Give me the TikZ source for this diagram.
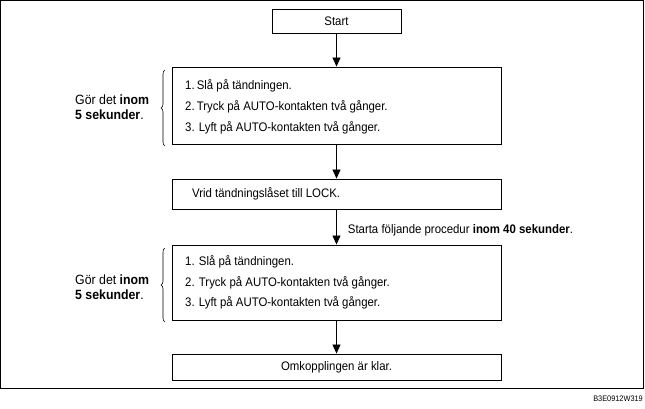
\documentclass[tikz,border=0pt]{standalone}
\usepackage{fontspec}
\setmainfont{Liberation Sans}[FakeStretch=0.92]
\usetikzlibrary{arrows.meta,decorations.pathreplacing}
\begin{document}
\begin{tikzpicture}[x=1pt,y=-1pt,
  every node/.style={font=\fontsize{12.4}{14}\selectfont, inner sep=0pt},
  box/.style={draw, line width=0.9pt, minimum width=329pt, anchor=center},
  item/.style={anchor=west},
  flow/.style={line width=0.8pt, -{Triangle[width=8pt,length=9pt]}},
  grp/.style={draw, line width=0.6pt, decorate, decoration={brace, amplitude=4pt}},
  side/.style={align=left, anchor=west, font=\fontsize{13.4}{15.5}\selectfont}]
\useasboundingbox (0,0) rectangle (645,408);
\draw[line width=0.9pt] (0.5,0.5) rectangle (643.5,388);
\node[anchor=south east, font=\fontsize{8}{8}\selectfont] (code) at (643,402) {B3E0912W319};

\node[draw, line width=0.9pt, minimum width=129pt, minimum height=24pt] (start) at (336.5,21) {Start};
\node[box, minimum height=77pt] (s1) at (336.5,105.5) {};
\node[item] (s1a) at (185,86) {1.\,Slå på tändningen.};
\node[item] (s1b) at (185,107) {2.\,Tryck på AUTO-kontakten två gånger.};
\node[item] (s1c) at (185,128) {3. Lyft på AUTO-kontakten två gånger.};

\node[box, minimum height=30pt] (lock) at (336.5,194) {};
\node[item] (locktxt) at (192,194) {Vrid tändningslåset till LOCK.};

\node[box, minimum height=75pt] (s2) at (336.5,282.5) {};
\node[item] (s2a) at (185,262) {1. Slå på tändningen.};
\node[item] (s2b) at (185,283) {2. Tryck på AUTO-kontakten två gånger.};
\node[item] (s2c) at (185,303) {3. Lyft på AUTO-kontakten två gånger.};

\node[box, minimum height=26pt] (done) at (336.5,367) {Omkopplingen är klar.};

\draw[flow] (start) -- (s1);
\draw[flow] (s1) -- (lock);
\draw[flow] (lock) -- node[anchor=west, xshift=11pt, yshift=-3pt] (note) {Starta följande procedur \textbf{inom 40 sekunder}.} (s2);
\draw[flow] (s2) -- (done);

\coordinate (b1t) at (165,70);
\coordinate (b1b) at (165,146);
\draw[grp] (b1b) -- (b1t);
\node[side] (g1) at (75,107) {Gör det \textbf{inom}\\\textbf{5 sekunder}.};

\coordinate (b2t) at (165,248);
\coordinate (b2b) at (165,322);
\draw[grp] (b2b) -- (b2t);
\node[side] (g2) at (75,287) {Gör det \textbf{inom}\\\textbf{5 sekunder}.};
\end{tikzpicture}
\end{document}
